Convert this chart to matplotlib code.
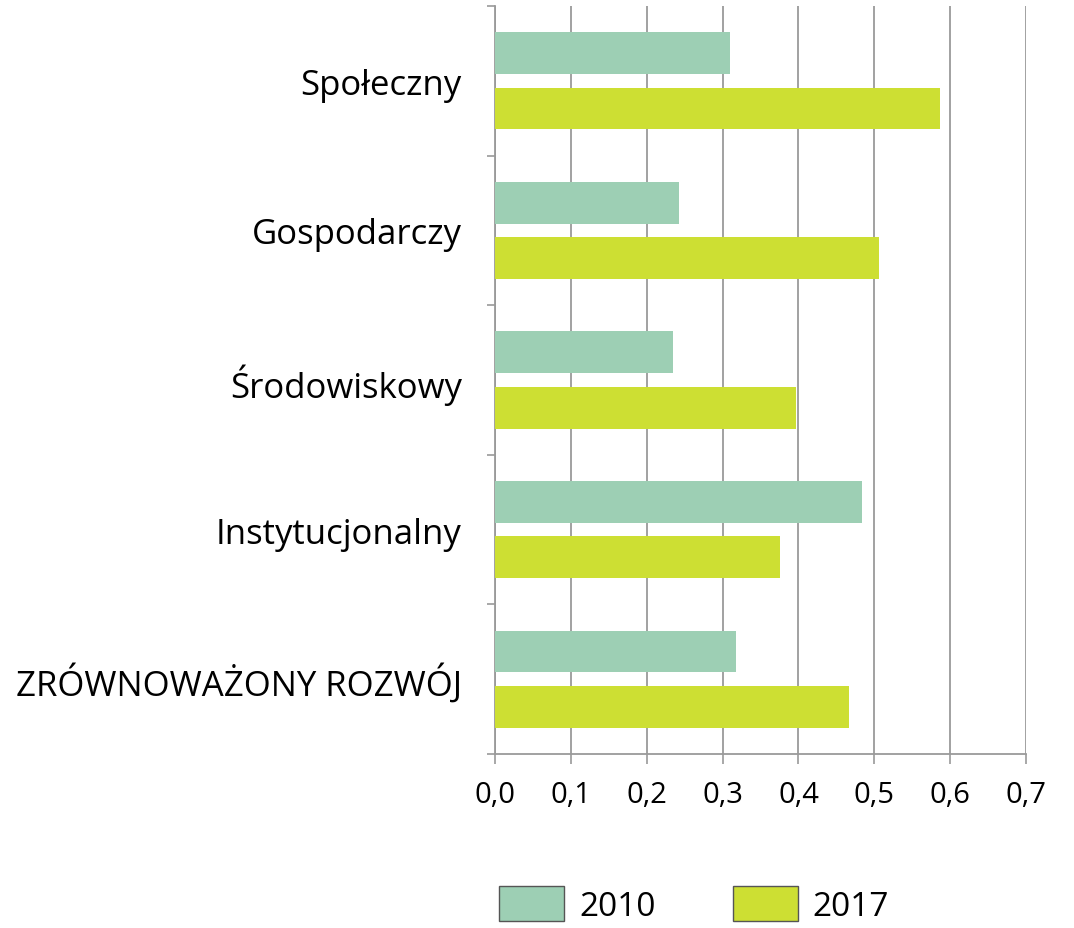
import matplotlib
matplotlib.use("Agg")
import matplotlib.pyplot as plt
import numpy as np
from matplotlib.patches import Patch

categories = ["Społeczny", "Gospodarczy", "Środowiskowy", "Instytucjonalny", "ZRÓWNOWAŻONY ROZWÓJ"]
values_2010 = [0.310, 0.243, 0.235, 0.484, 0.318]
values_2017 = [0.587, 0.506, 0.397, 0.376, 0.467]
series_labels = ["2010", "2017"]
x_ticks = [0.0, 0.1, 0.2, 0.3, 0.4, 0.5, 0.6, 0.7]
x_tick_labels = ["0,0", "0,1", "0,2", "0,3", "0,4", "0,5", "0,6", "0,7"]

plt.rcParams['font.family'] = ['Open Sans', 'DejaVu Sans']

color_2010 = "#9dcfb4"
color_2017 = "#cddf33"
grid_color = "#9a9a9a"

fig = plt.figure(figsize=(10.74, 9.29), dpi=100)
ax = fig.add_axes([0.461, 0.1873, 0.4943, 0.8052])

pos = np.arange(len(categories))
bar_h = 0.28
ax.barh(pos - 0.185, values_2010, height=bar_h, color=color_2010, zorder=3)
ax.barh(pos + 0.185, values_2017, height=bar_h, color=color_2017, zorder=3)

ax.set_xlim(0, 0.7)
ax.set_ylim(len(categories) - 0.5, -0.5)

ax.set_xticks(x_ticks)
ax.set_xticklabels(x_tick_labels, fontsize=21)
ax.set_yticks(pos)
ax.set_yticklabels(categories, fontsize=25)
ax.set_yticks(np.arange(len(categories) + 1) - 0.5, minor=True)

ax.tick_params(axis='y', which='major', length=0, pad=24)
ax.tick_params(axis='y', which='minor', length=6, width=1.2, color=grid_color)
ax.tick_params(axis='x', which='major', length=7, width=1.2, color=grid_color, pad=12)

ax.grid(axis='x', color=grid_color, linewidth=1.3, zorder=0)
for s in ["top", "right"]:
    ax.spines[s].set_visible(False)
for s in ["left", "bottom"]:
    ax.spines[s].set_color(grid_color)
    ax.spines[s].set_linewidth(1.3)

handles = [Patch(facecolor=color_2010, edgecolor="#555555", linewidth=1),
           Patch(facecolor=color_2017, edgecolor="#555555", linewidth=1)]
fig.legend(handles, series_labels, loc="lower left", bbox_to_anchor=(0.437, -0.027), ncol=2,
           frameon=False, fontsize=24, handlelength=1.95, handleheight=1.25,
           columnspacing=2.3, handletextpad=0.45)

fig.savefig("out.png", dpi=100)
